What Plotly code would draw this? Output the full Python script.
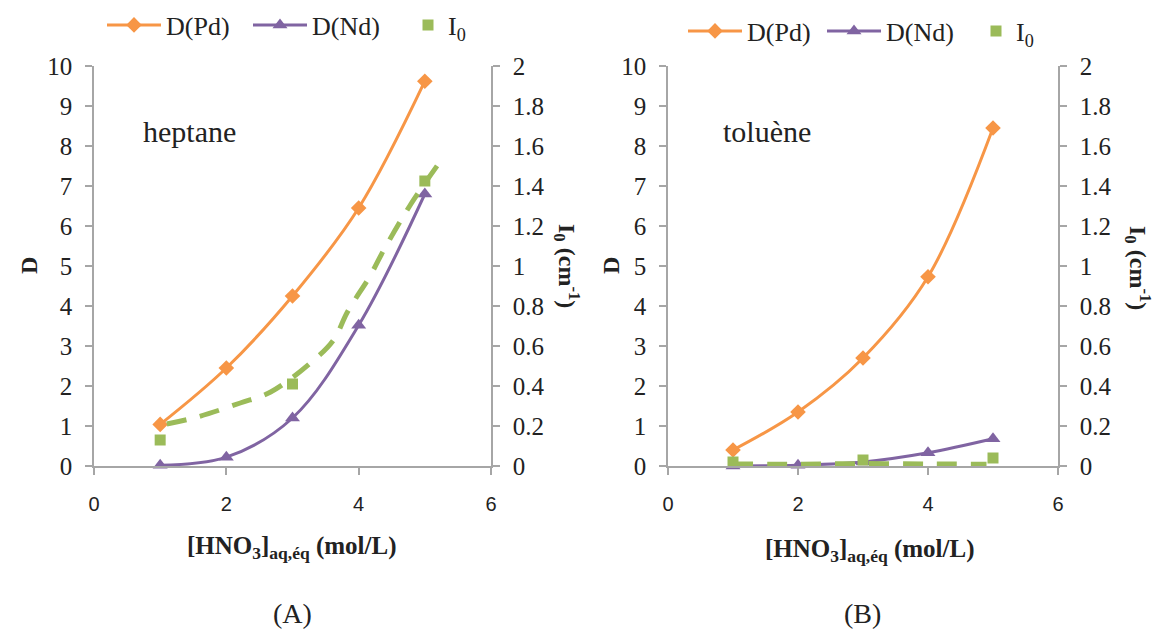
import plotly.graph_objects as go

W, H = 1157, 630

# ---------------- data ----------------
x_pts = [1, 2, 3, 4, 5]

# (A) heptane
hep_D_Pd = [1.04, 2.45, 4.25, 6.45, 9.62]
hep_D_Nd = [0.02, 0.22, 1.2, 3.52, 6.8]
hep_I0_x = [1, 3, 5]
hep_I0 = [0.13, 0.41, 1.425]
hep_trend_x = [1.1, 1.56, 2.21, 2.67, 3.27, 3.62, 3.83, 4.18, 4.38, 4.79, 5.27]
hep_trend_y = [0.21, 0.245, 0.315, 0.37, 0.515, 0.63, 0.77, 0.955, 1.08, 1.31, 1.54]

# (B) toluène
tol_D_Pd = [0.4, 1.35, 2.7, 4.73, 8.45]
tol_D_Nd = [0.0, 0.02, 0.1, 0.33, 0.68]
tol_I0_x = [1, 3, 5]
tol_I0 = [0.02, 0.03, 0.04]
tol_trend_x = [1.0, 2.0, 3.0, 4.0, 4.9]
tol_trend_y = [0.01, 0.009, 0.012, 0.01, 0.009]

ORANGE = "#F79646"
PURPLE = "#8064A2"
GREEN = "#9BBB59"
AXC = "#A6A6A6"
SERIF = "Liberation Serif"
SANS = "Liberation Sans"

fig = go.Figure()

def add_panel(xa, ya, ya2, legs, dpd, dnd, i0x, i0, tx, ty):
    fig.add_trace(go.Scatter(x=x_pts, y=dpd, mode="lines+markers", name="D(Pd)",
                             line=dict(color=ORANGE, width=3, shape="spline"),
                             marker=dict(symbol="diamond", size=12, color=ORANGE),
                             xaxis=xa, yaxis=ya, legend=legs[0], cliponaxis=False))
    fig.add_trace(go.Scatter(x=x_pts, y=dnd, mode="lines+markers", name="D(Nd)",
                             line=dict(color=PURPLE, width=3, shape="spline"),
                             marker=dict(symbol="triangle-up", size=13, color=PURPLE),
                             xaxis=xa, yaxis=ya, legend=legs[1], cliponaxis=False))
    fig.add_trace(go.Scatter(x=i0x, y=i0, mode="markers", name="I<sub>0</sub>",
                             marker=dict(symbol="square", size=11, color=GREEN),
                             xaxis=xa, yaxis=ya2, legend=legs[2], cliponaxis=False))
    fig.add_trace(go.Scatter(x=tx, y=ty, mode="lines", showlegend=False,
                             line=dict(color=GREEN, width=5, dash="20px,14px", shape="spline"),
                             xaxis=xa, yaxis=ya2, cliponaxis=False))

add_panel("x", "y", "y2", ["legend", "legend2", "legend3"],
          hep_D_Pd, hep_D_Nd, hep_I0_x, hep_I0, hep_trend_x, hep_trend_y)
add_panel("x2", "y3", "y4", ["legend4", "legend5", "legend6"],
          tol_D_Pd, tol_D_Nd, tol_I0_x, tol_I0, tol_trend_x, tol_trend_y)

px = lambda v: v / W
py = lambda v: 1 - v / H

xdomA = [px(94), px(491)]
xdomB = [px(668), px(1058)]
ydom = [py(466), py(66)]

xcommon = dict(range=[0, 6], dtick=2, tick0=0, showline=True, linecolor=AXC, linewidth=1.5,
               ticks="outside", ticklen=7, tickcolor=AXC, tickwidth=1.5, showgrid=False,
               zeroline=False, automargin=False, ticklabelstandoff=12,
               tickfont=dict(family=SANS, size=20, color="#222"))
ycommon = dict(showline=True, linecolor=AXC, linewidth=1.5, ticks="outside", ticklen=7,
               tickcolor=AXC, tickwidth=1.5, showgrid=False, zeroline=False, automargin=False,
               ticklabelstandoff=8,
               tickfont=dict(family=SERIF, size=25, color="#222"), domain=ydom)

def leg(x, y, iw):
    return dict(orientation="h", x=px(x), y=py(y), xanchor="left", yanchor="middle",
                font=dict(family=SERIF, size=26, color="#222"), itemwidth=iw,
                bgcolor="rgba(0,0,0,0)")

fig.update_layout(
    width=W, height=H, margin=dict(l=0, r=0, t=0, b=0, autoexpand=False),
    paper_bgcolor="white", plot_bgcolor="white",
    xaxis=dict(domain=xdomA, anchor="y", **xcommon),
    yaxis=dict(anchor="x", range=[0, 10], dtick=1, **ycommon),
    yaxis2=dict(anchor="x", overlaying="y", side="right", range=[0, 2], dtick=0.2, **ycommon),
    xaxis2=dict(domain=xdomB, anchor="y3", **xcommon),
    yaxis3=dict(anchor="x2", range=[0, 10], dtick=1, **ycommon),
    yaxis4=dict(anchor="x2", overlaying="y3", side="right", range=[0, 2], dtick=0.2, **ycommon),
    legend=leg(102, 25, 54),
    legend2=leg(248, 25, 54),
    legend3=leg(408, 25, 30),
    legend4=leg(683, 31, 54),
    legend5=leg(822, 31, 54),
    legend6=leg(976, 31, 30),
    showlegend=True,
)

ann = []
def A(x, y, text, size=24, angle=0, xanchor="center"):
    ann.append(dict(x=px(x), y=py(y), xref="paper", yref="paper", text=text, showarrow=False,
                    textangle=angle, xanchor=xanchor, yanchor="middle",
                    font=dict(family=SERIF, size=size, color="#222")))

A(29, 266, "<b>D</b>", 24, -90)
A(567, 266, "<b>I<sub>0</sub> (cm<sup>-1</sup>)</b>", 24, 90)
A(611, 266, "<b>D</b>", 24, -90)
A(1138, 268, "<b>I<sub>0</sub> (cm<sup>-1</sup>)</b>", 24, 90)
A(292, 547, "<b>[HNO<sub>3</sub>]<sub>aq,éq</sub> (mol/L)</b>", 25)
A(870, 550, "<b>[HNO<sub>3</sub>]<sub>aq,éq</sub> (mol/L)</b>", 25)
A(141, 131, "heptane", 30, xanchor="left")
A(721, 131, "toluène", 30, xanchor="left")
A(292, 613, "(A)", 28)
A(862, 613, "(B)", 28)
fig.update_layout(annotations=ann)

fig.write_html("out.html", config={"displayModeBar": False},
               post_script="document.body.style.margin='0';document.body.style.overflow='hidden';")
